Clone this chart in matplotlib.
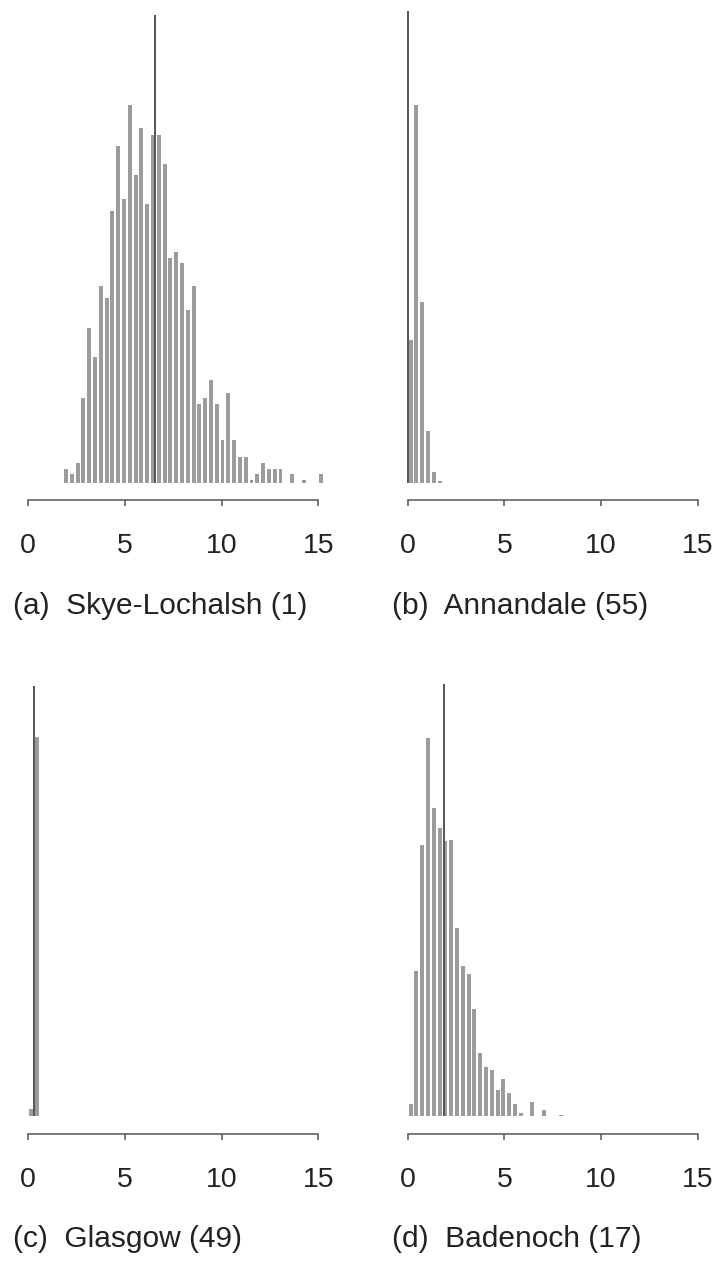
# four histograms of simulated values with a vertical reference line per panel

import numpy as np
import matplotlib
matplotlib.use("Agg")
import matplotlib.pyplot as plt

plt.rcParams['font.family'] = ['Liberation Sans', 'DejaVu Sans']

bin_w = 0.3

# (a) Skye-Lochalsh: bins start at 1.95
skye_start = 1.95
skye_h = [3.0, 1.9, 4.3, 17.8, 32.3, 26.3, 41.0, 38.5, 56.8, 70.3, 59.2, 78.8,
          64.2, 74.0, 58.1, 72.6, 72.6, 66.5, 47.0, 48.1, 45.8, 36.0, 41.0,
          16.5, 17.8, 21.5, 16.5, 9.0, 18.9, 9.0, 5.5, 5.5, 0.7, 1.9, 4.3,
          3.0, 3.0, 3.0, 0, 1.9, 0, 0.7, 0, 0, 1.9]
skye_ref, skye_line = 6.54, 97.5

# (b) Annandale
ann_start = 0.15
ann_h = [29.9, 78.8, 37.8, 10.9, 2.3, 0.4]
ann_ref, ann_line = 0.0, 98.3

# (c) Glasgow
gla_start = 0.15
gla_h = [1.4, 79.0]
gla_ref, gla_line = 0.31, 89.6

# (d) Badenoch
bad_start = 0.15
bad_h = [2.4, 30.2, 56.5, 78.8, 64.2, 60.1, 57.2, 57.6, 39.1, 31.3, 29.5, 22.2,
         13.2, 10.2, 9.6, 5.4, 7.8, 4.7, 2.4, 0.6, 0, 3.0, 0, 1.25, 0, 0, 0.2]
bad_ref, bad_line = 1.88, 89.9

titles = ['(a)  Skye-Lochalsh (1)', '(b)  Annandale (55)',
          '(c)  Glasgow (49)', '(d)  Badenoch (17)']
xticks = [0, 5, 10, 15]

W, H = 717, 1261
fig = plt.figure(figsize=(W / 100, H / 100), dpi=100)

px_per_x = 19.33
xlo, xhi = -0.6, 15.6

panels = [
    # left px of x=0, bottom px, top px, ylim, title y, data
    (28.3, 500, 8, (-3.48, 99.0), 606, skye_start, skye_h, skye_ref, skye_line),
    (407.7, 500, 8, (-3.48, 99.0), 606, ann_start, ann_h, ann_ref, ann_line),
    (28.3, 1134, 678, (-3.75, 91.25), 1239, gla_start, gla_h, gla_ref, gla_line),
    (407.7, 1134, 678, (-3.75, 91.25), 1239, bad_start, bad_h, bad_ref, bad_line),
]

for i, (x0, bot, top, ylim, ty, start, h, ref, ltop) in enumerate(panels):
    left = x0 + xlo * px_per_x
    width = (xhi - xlo) * px_per_x
    ax = fig.add_axes([left / W, (H - bot) / H, width / W, (bot - top) / H])
    centers = start + bin_w * np.arange(len(h))
    ax.bar(centers, h, width=0.2, color='#9c9c9c', edgecolor='none')
    ax.vlines(ref, 0, ltop, color='#555555', lw=1.4)
    ax.set_xlim(xlo, xhi)
    ax.set_ylim(*ylim)
    for s in ['top', 'right', 'left']:
        ax.spines[s].set_visible(False)
    ax.spines['bottom'].set_bounds(0, 15)
    ax.spines['bottom'].set_color('#555555')
    ax.spines['bottom'].set_linewidth(1.1)
    ax.set_yticks([])
    ax.set_xticks(xticks)
    ax.tick_params(axis='x', direction='out', length=4.5, width=1.1,
                   color='#555555', labelcolor='#222222', labelsize=20.5, pad=19)
    ax.patch.set_visible(False)
    tx = 13 if i % 2 == 0 else 392
    fig.text(tx / W, (H - ty) / H, titles[i], fontsize=21.5, color='#222222',
             ha='left', va='center')

fig.savefig('out.png', dpi=100)
